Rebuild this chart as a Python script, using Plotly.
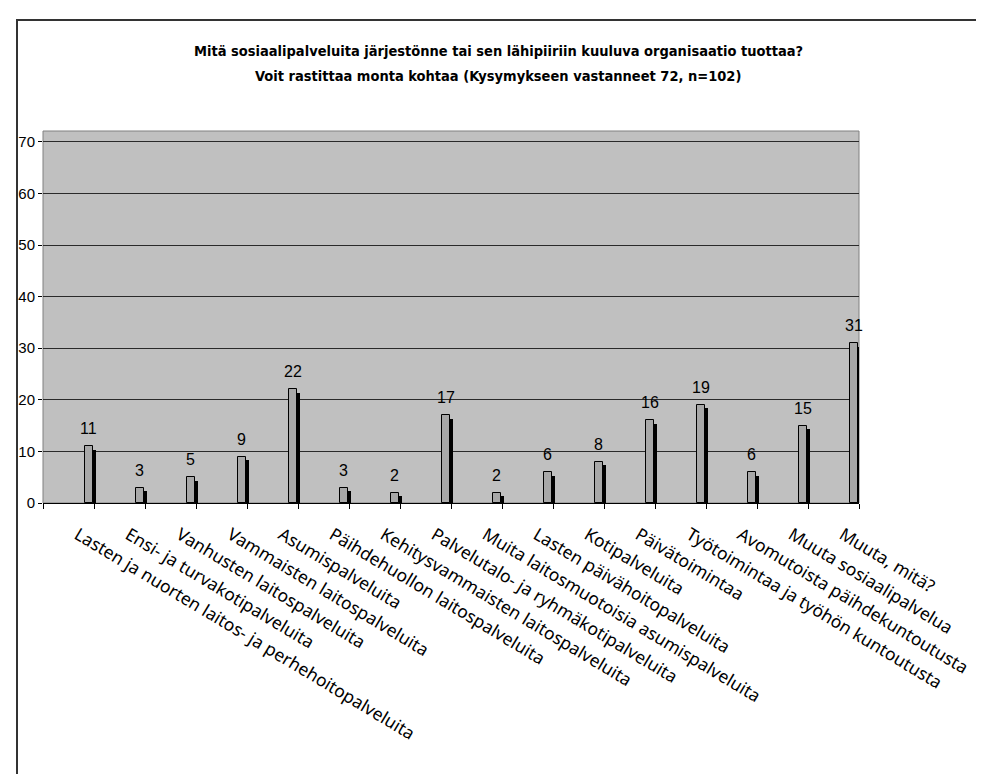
import plotly.graph_objects as go

categories = [
    "Lasten ja nuorten laitos- ja perhehoitopalveluita",
    "Ensi- ja turvakotipalveluita",
    "Vanhusten laitospalveluita",
    "Vammaisten laitospalveluita",
    "Asumispalveluita",
    "Päihdehuollon laitospalveluita",
    "Kehitysvammaisten laitospalveluita",
    "Palvelutalo- ja ryhmäkotipalveluita",
    "Muita laitosmuotoisia asumispalveluita",
    "Lasten päivähoitopalveluita",
    "Kotipalveluita",
    "Päivätoimintaa",
    "Työtoimintaa ja työhön kuntoutusta",
    "Avomutoista päihdekuntoutusta",
    "Muuta sosiaalipalvelua",
    "Muuta, mitä?",
]
values = [11, 3, 5, 9, 22, 3, 2, 17, 2, 6, 8, 16, 19, 6, 15, 31]
y_ticks = [0, 10, 20, 30, 40, 50, 60, 70]
title_lines = [
    "Mitä sosiaalipalveluita järjestönne tai sen lähipiiriin kuuluva organisaatio tuottaa?",
    "Voit rastittaa monta kohtaa (Kysymykseen vastanneet 72, n=102)",
]

W, H = 984, 774
L, R, T, B = 35, 133, 123, 279
PH = H - T - B
PW = W - L - R


def py(pix):
    return (H - B - pix) / PH


def px(pix):
    return (pix - L) / PW


fig = go.Figure()

# shadow (depth) bars
fig.add_trace(go.Bar(
    x=categories, y=[v - 0.68 for v in values],
    offset=0.38, width=0.157,
    marker=dict(color="black", line=dict(width=0)),
    hoverinfo="skip", showlegend=False,
))
# front bars
fig.add_trace(go.Bar(
    x=categories, y=values,
    offset=0.32, width=0.157,
    marker=dict(color="#A8A8A8", line=dict(color="black", width=1)),
    showlegend=False,
))

for i, v in enumerate(values):
    fig.add_annotation(
        x=i + 0.40, y=v, xref="x", yref="y",
        text=str(v), showarrow=False, yanchor="bottom", yshift=7,
        font=dict(family="Liberation Sans, Arial, sans-serif", size=16, color="black"),
    )

title_font = dict(family="DejaVu Sans Condensed, Liberation Sans Narrow, Liberation Sans, sans-serif",
                  size=14.5, color="black", weight="bold")
fig.add_annotation(x=px(490), y=py(43), xref="paper", yref="paper", text=title_lines[0],
                   showarrow=False, xanchor="center", yanchor="middle", font=title_font)
fig.add_annotation(x=px(490), y=py(68), xref="paper", yref="paper", text=title_lines[1],
                   showarrow=False, xanchor="center", yanchor="middle", font=title_font)

# outer frame
fig.add_shape(type="rect", xref="paper", yref="paper",
              x0=px(9), x1=px(W + 10), y0=py(H + 10), y1=py(12),
              line=dict(color="#333333", width=2), fillcolor="rgba(0,0,0,0)", layer="below")
# plot area border
fig.add_shape(type="rect", xref="paper", yref="paper", x0=0, x1=1, y0=0, y1=1,
              line=dict(color="#808080", width=1), fillcolor="rgba(0,0,0,0)", layer="below")

fig.update_layout(
    width=W, height=H,
    margin=dict(l=L, r=R, t=T, b=B, autoexpand=False),
    paper_bgcolor="white", plot_bgcolor="#C0C0C0",
    barmode="overlay", bargap=0,
    font=dict(family="Liberation Sans, Arial, sans-serif", color="black"),
)
fig.update_xaxes(
    type="category", range=[-0.5, len(categories) - 0.5],
    tickson="boundaries", ticks="outside", ticklen=5, tickcolor="black",
    showline=True, linecolor="black", linewidth=1,
    showgrid=False, tickangle=31,
    ticklabelstandoff=14, ticklabelshift=9,
    tickfont=dict(family="Noto Sans, sans-serif", size=17.5, color="black"),
)
fig.update_yaxes(
    range=[0, 72.1], tickvals=y_ticks, ticks="outside", ticklen=4, tickcolor="black",
    showgrid=True, gridcolor="#2a2a2a", gridwidth=1, zeroline=False,
    showline=False,
    tickfont=dict(family="Liberation Sans, Arial, sans-serif", size=15, color="black"),
)

fig.write_html("out.html")
